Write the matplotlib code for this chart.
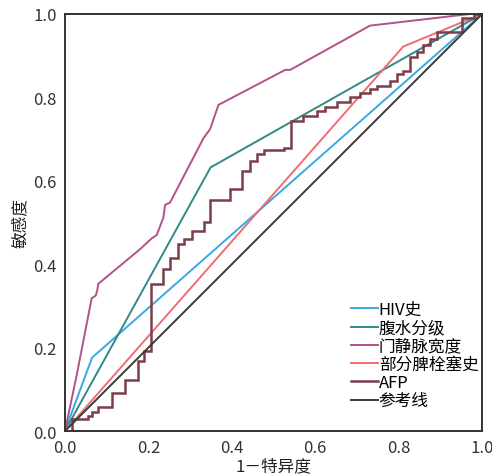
import matplotlib
matplotlib.use("Agg")
import matplotlib.pyplot as plt

plt.rcParams['font.family'] = ['Noto Sans CJK SC', 'DejaVu Sans']

# ROC curves (x = 1 - specificity, y = sensitivity)
hiv_x = [0.0, 0.065, 1.0]
hiv_y = [0.0, 0.176, 1.0]

ascites_x = [0.0, 0.349, 1.0]
ascites_y = [0.0, 0.632, 1.0]

portal_x = [0.0, 0.028, 0.064, 0.074, 0.078, 0.080, 0.180, 0.208, 0.220, 0.236,
            0.240, 0.252, 0.332, 0.348, 0.368, 0.528, 0.540, 0.731, 0.971, 1.0]
portal_y = [0.0, 0.133, 0.318, 0.325, 0.340, 0.353, 0.436, 0.462, 0.470, 0.512,
            0.542, 0.548, 0.702, 0.724, 0.782, 0.866, 0.866, 0.972, 1.0, 1.0]

splenic_x = [0.0, 0.811, 1.0]
splenic_y = [0.0, 0.922, 1.0]

# AFP staircase: sensitivity reached after each vertical jump at the given x
afp_x = [0.0, 0.016, 0.056, 0.064, 0.080, 0.112, 0.144, 0.176, 0.190, 0.206,
         0.236, 0.252, 0.270, 0.286, 0.304, 0.334, 0.348, 0.396, 0.424, 0.444,
         0.460, 0.476, 0.524, 0.541, 0.571, 0.604, 0.624, 0.652, 0.683, 0.707,
         0.731, 0.747, 0.779, 0.795, 0.811, 0.827, 0.843, 0.859, 0.875, 0.891,
         0.951, 0.980, 1.0]
afp_y = [0.0, 0.029, 0.037, 0.045, 0.057, 0.091, 0.122, 0.167, 0.191, 0.353,
         0.388, 0.416, 0.448, 0.460, 0.480, 0.502, 0.554, 0.580, 0.624, 0.648,
         0.664, 0.674, 0.678, 0.744, 0.756, 0.768, 0.778, 0.790, 0.800, 0.810,
         0.820, 0.828, 0.840, 0.856, 0.864, 0.896, 0.910, 0.925, 0.940, 0.956,
         0.990, 1.0, 1.0]

ref_x = [0.0, 1.0]
ref_y = [0.0, 1.0]

labels = ['HIV史', '腹水分级', '门静脉宽度', '部分脾栓塞史', 'AFP', '参考线']
colors = ['#3aa8e2', '#2f8a86', '#b4508a', '#f26b73', '#7d3d4a', '#3a3a3a']
xticks = [0.0, 0.2, 0.4, 0.6, 0.8, 1.0]
yticks = [0.0, 0.2, 0.4, 0.6, 0.8, 1.0]

fig = plt.figure(figsize=(4.92, 4.77), dpi=100)
ax = fig.add_axes([0.132, 0.0943, 0.848, 0.8743])

series = [(hiv_x, hiv_y, 'default'), (ascites_x, ascites_y, 'default'),
          (portal_x, portal_y, 'default'), (splenic_x, splenic_y, 'default'),
          (afp_x, afp_y, 'steps-post'), (ref_x, ref_y, 'default')]
for (xs, ys, ds), lab, c in zip(series, labels, colors):
    lw = 1.8 if lab == 'AFP' else 1.4
    ax.plot(xs, ys, color=c, lw=lw, label=lab, drawstyle=ds,
            solid_joinstyle='miter')

ax.set_xlim(0, 1)
ax.set_ylim(0, 1)
ax.set_xticks(xticks)
ax.set_yticks(yticks)
ax.set_xticklabels([f'{v:.1f}' for v in xticks])
ax.set_yticklabels([f'{v:.1f}' for v in yticks])
ax.tick_params(length=0, labelsize=12, pad=6, colors='#333333')
for s in ax.spines.values():
    s.set_color('#333333')
    s.set_linewidth(1.4)

ax.set_xlabel('1－特异度', fontsize=12, labelpad=1, color='#222222')
ax.set_ylabel('敏感度', fontsize=12, labelpad=3, color='#222222')

ax.legend(loc='lower right', frameon=False, fontsize=12, handlelength=1.6,
          handletextpad=0.05, labelspacing=0.075, borderaxespad=0.0,
          bbox_to_anchor=(1.007, 0.036))

fig.savefig('out.png', dpi=100)
